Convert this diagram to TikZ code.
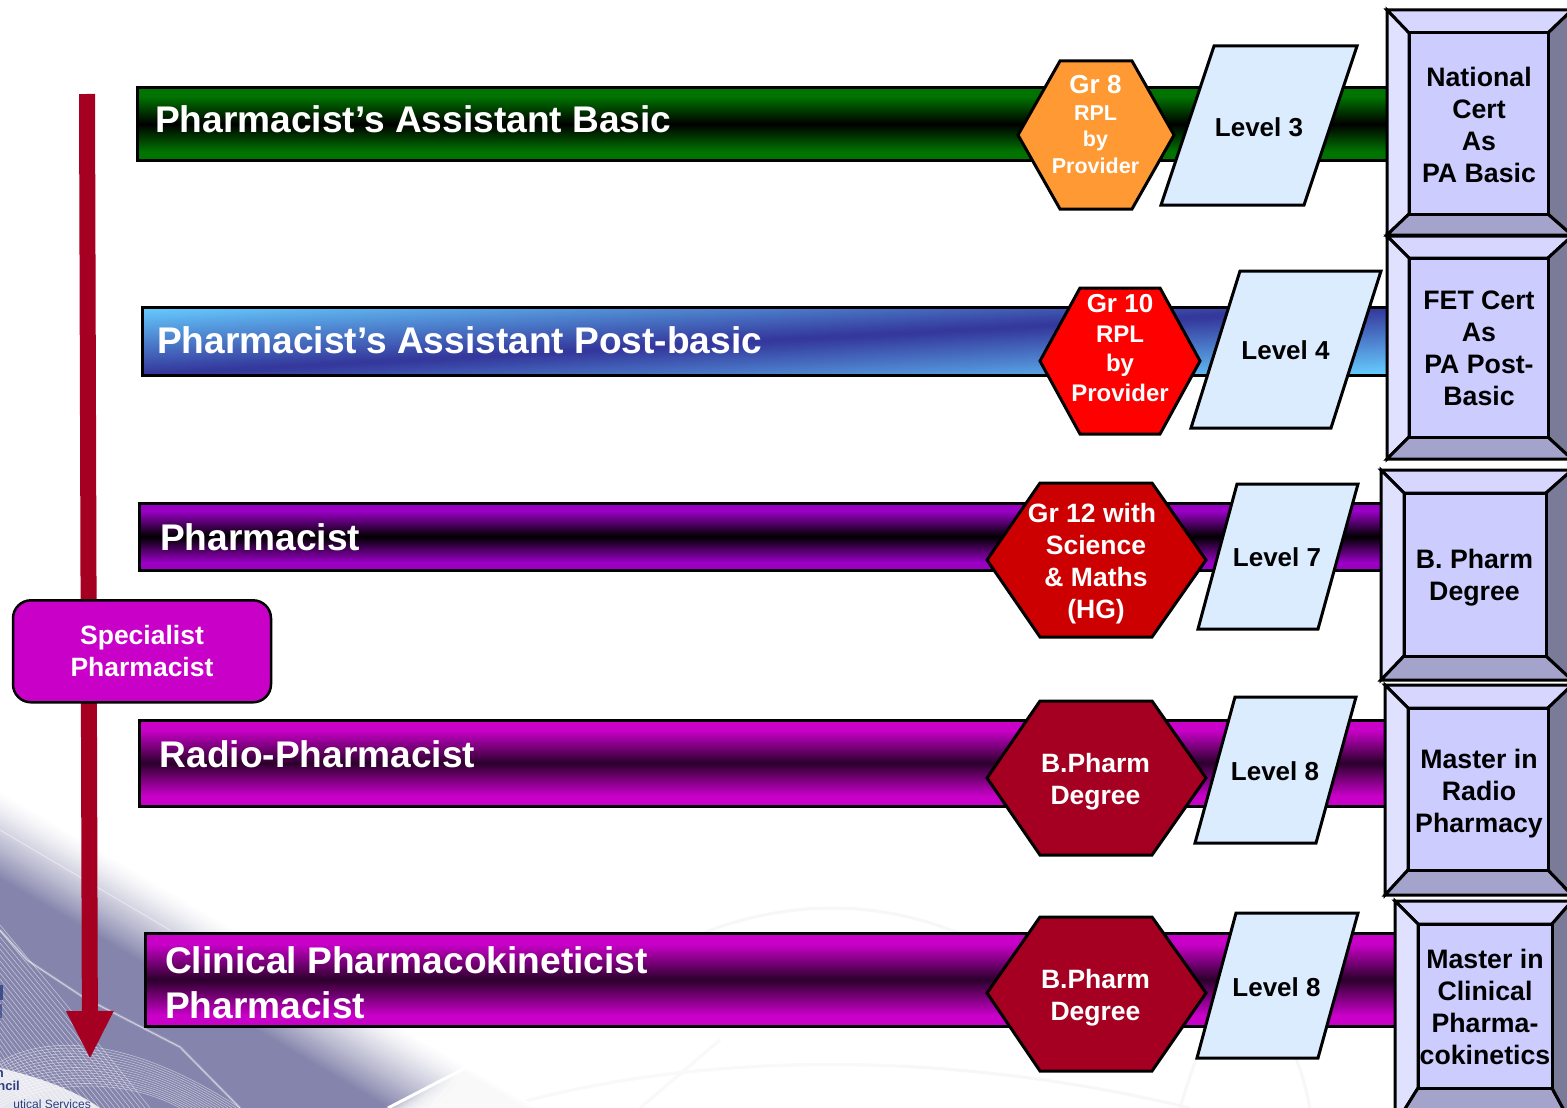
\documentclass[tikz,border=0pt]{standalone}
\usepackage{fontspec}
\setmainfont{Liberation Sans}
\usetikzlibrary{arrows.meta}
\definecolor{swoosh}{HTML}{8484AC}
\definecolor{arrowred}{HTML}{A50021}
\definecolor{barmagenta}{HTML}{C800C8}
\definecolor{barviolet}{HTML}{9900C4}
\definecolor{bargreen}{HTML}{007300}
\definecolor{bluelight}{HTML}{66CCFF}
\definecolor{bluedark}{HTML}{333399}
\definecolor{paraface}{HTML}{DCECFF}
\definecolor{logonavy}{HTML}{2A3F7F}
\definecolor{bevtop}{HTML}{D6D6FF}
\definecolor{bevleft}{HTML}{E0E0FF}
\definecolor{bevbottom}{HTML}{A3A3CC}
\definecolor{bevright}{HTML}{7A7A99}
\definecolor{bevface}{HTML}{CCCCFF}
\definecolor{hexorange}{HTML}{FF9933}
\definecolor{magmid}{HTML}{2C002C}
\pgfdeclareverticalshading{shgreen}{100bp}{color(0bp)=(bargreen); color(31bp)=(bargreen); color(50bp)=(black); color(69bp)=(bargreen); color(100bp)=(bargreen)}
\pgfdeclareverticalshading{shviolet}{100bp}{color(0bp)=(barviolet); color(31bp)=(barviolet); color(50bp)=(black); color(69bp)=(barviolet); color(100bp)=(barviolet)}
\pgfdeclareverticalshading{shmagenta}{100bp}{color(0bp)=(barmagenta); color(31bp)=(barmagenta); color(50bp)=(magmid); color(69bp)=(barmagenta); color(100bp)=(barmagenta)}
\tikzset{
  x=1pt,y=-1pt,
  outline/.style={draw=black,line width=3pt,line join=miter},
  greenbar/.style={outline,shade,shading=shgreen},
  violetbar/.style={outline,shade,shading=shviolet},
  purplebar/.style={outline,shade,shading=shmagenta},
  hexshape/.style={outline},
  parashape/.style={outline,fill=paraface},
  title/.style={anchor=base west,inner sep=0pt,text=white,font=\fontsize{37.1}{45}\selectfont\bfseries,align=left},
  lightlabel/.style={inner sep=0pt,text=white,align=center,font=\fontsize{26.5}{32}\selectfont\bfseries},
  darklabel/.style={inner sep=0pt,text=black,align=center,font=\fontsize{26}{32}\selectfont\bfseries},
  bevellabel/.style={inner sep=0pt,text=black,align=center,font=\fontsize{26.7}{32}\selectfont\bfseries},
  meshline/.style={draw=white,line width=0.6pt,opacity=0.5},
  faintline/.style={draw=black!3,line width=3pt}
}
\newcommand\bevelbox[4]{%
  \coordinate (oa) at (#1); \coordinate (oc) at (#2);
  \coordinate (ia) at (#3); \coordinate (ic) at (#4);
  \path[outline,fill=bevtop] (oa)--(oc |- oa)--(ic |- ia)--(ia)--cycle;
  \path[outline,fill=bevleft] (oa)--(ia)--(ia |- ic)--(oa |- oc)--cycle;
  \path[outline,fill=bevbottom] (oa |- oc)--(ia |- ic)--(ic)--(oc)--cycle;
  \path[outline,fill=bevright] (oc |- oa)--(ic |- ia)--(ic)--(oc)--cycle;
  \path[outline,fill=bevface] (ia) rectangle (ic);
}
\begin{document}
\begin{tikzpicture}
\useasboundingbox (0,0) rectangle (1567,1108);
\clip (0,0) rectangle (1567,1108);
\fill[white] (0,0) rectangle (1567,1108);
% faint watermark
\draw[faintline] (640,965) .. controls (760,890) and (900,890) .. (1010,960);
\draw[faintline] (1180,1108) .. controls (1200,1040) and (1220,1000) .. (1240,980);
\draw[faintline] (1310,1108) .. controls (1300,1060) and (1290,1040) .. (1270,1020);
\draw[faintline] (500,1108) .. controls (700,1050) and (950,1050) .. (1190,1108);
\draw[faintline] (720,1040) -- (640,1108);
% swoosh
\foreach \i in {0,...,34}{
  \pgfmathsetmacro\pc{100*(\i/34)^1.25}
  \pgfmathsetmacro\ya{790+\i*2.6}
  \pgfmathsetmacro\yb{\ya+0.59*800}
  \fill[swoosh!\pc!white] (0,\ya)--(800,\yb)--(800,1400)--(0,1400)--cycle;
}
\foreach \i in {0,...,20}{
  \pgfmathsetmacro\xa{385+\i*2.6}
  \pgfmathsetmacro\xb{\xa+220}
  \fill[white,fill opacity=0.16] (\xa,1108)--(\xb,992)--(900,992)--(900,1108)--cycle;
}
\draw[white,line width=3pt] (388,1108)--(500,1050);
\draw[white,line width=1pt,opacity=0.45] (0,830)--(170,930);
\draw[white,line width=3pt,opacity=0.18] (0,930)--(27,960)--(83,997)--(180,1047)--(240,1108);
\draw[white,line width=1pt,opacity=0.55] (0,930)--(27,960)--(83,997)--(180,1047)--(240,1108);
\draw[white,line width=1pt,opacity=0.5] (430,1108)--(470,1060);
% mesh
\foreach \i in {0,...,24}{
  \draw[meshline] (0,{925+\i*6}) .. controls ({50-\i*1.5},{985+\i*4.5}) and ({100-\i*3},{1045+\i*2.5}) .. ({150-\i*5},1108);
}
\foreach \i in {0,...,15}{
  \draw[meshline] (0,{1062+\i*3}) .. controls (40,{1038+\i*3}) and (120,{1030+\i*3}) .. ({240-\i*4},1108);
}
\fill[white,opacity=0.8] (0,1068) .. controls (35,1076) and (75,1090) .. (100,1108) -- (0,1108) -- cycle;
\fill[logonavy,opacity=0.8] (0,985) rectangle (3,1000);
\fill[logonavy,opacity=0.6] (0,1004) rectangle (2,1018);
% logo fragments
\node[anchor=base east,inner sep=0pt,text=logonavy,font=\fontsize{13}{15}\selectfont\bfseries] (logoa) at (4,1077) {n};
\node[anchor=base east,inner sep=0pt,text=logonavy,font=\fontsize{13}{15}\selectfont\bfseries] (logob) at (20,1090) {ncil};
\node[anchor=base east,inner sep=0pt,text=logonavy,font=\fontsize{12}{15}\selectfont] (logoc) at (91,1108) {utical Services};
% progression arrow
\coordinate (arrowtop) at (87,94);
\coordinate (arrowtip) at (90,1059);
\draw[arrowred,line width=16pt,-{Triangle[length=48pt,width=44pt]}] (arrowtop)--(arrowtip);
% bars
\path[greenbar]  (137,88) rectangle (1400,160);
\begin{scope}
  \clip (142,307) rectangle (1400,375);
  \fill[bluelight] (142,307) rectangle (1400,375);
  \foreach \k in {68,66,...,0}{
    \pgfmathsetmacro\pc{100*\k/68}
    \pgfmathsetmacro\ylt{375-\k}
    \pgfmathsetmacro\ylb{375+\k}
    \pgfmathsetmacro\yrt{307-\k}
    \pgfmathsetmacro\yrb{307+\k}
    \fill[bluelight!\pc!bluedark] (142,\ylt)--(1386,\yrt)--(1400,\yrt)--(1400,\yrb)--(1386,\yrb)--(142,\ylb)--cycle;
  }
\end{scope}
\draw[outline] (142,307) rectangle (1400,375);
\path[violetbar] (139,503) rectangle (1400,570);
\path[purplebar] (139,720) rectangle (1400,806);
\path[purplebar] (145,933) rectangle (1410,1026);
\node[title] (t1) at (155,132) {Pharmacist’s Assistant Basic};
\node[title] (t2) at (157,353) {Pharmacist’s Assistant Post-basic};
\node[title] (t3) at (160,550) {Pharmacist};
\node[title] (t4) at (159.5,767) {Radio-Pharmacist};
\node[title] (t5a) at (165,973) {Clinical Pharmacokineticist};
\node[title] (t5b) at (165,1018) {Pharmacist};
% specialist
\node[draw=black,line width=2.5pt,fill=barmagenta!100!magenta,rounded corners=18pt,minimum width=258pt,minimum height=102pt,lightlabel,inner sep=0pt] (spec) at (142,651.3) {Specialist\\Pharmacist};
% hexagons
\path[hexshape,fill=hexorange] (1018,135)--(1060,61)--(1132,61)--(1174,135)--(1132,209)--(1060,209)--cycle;
\path[hexshape,fill=red] (1040,361)--(1080,288)--(1160,288)--(1200,361)--(1160,434)--(1080,434)--cycle;
\path[hexshape,fill=red!80!black] (987,560)--(1040,483)--(1152,483)--(1206,560)--(1152,637)--(1040,637)--cycle;
\path[hexshape,fill=arrowred] (987,778)--(1040,701)--(1152,701)--(1206,778)--(1152,855)--(1040,855)--cycle;
\path[hexshape,fill=arrowred] (987,993)--(1040,917)--(1152,917)--(1206,993)--(1152,1071)--(1040,1071)--cycle;
\node[lightlabel,font=\fontsize{21.5}{26.5}\selectfont\bfseries] (h1) at (1095.5,124.5) {{\fontsize{26}{26.5}\selectfont Gr 8}\\RPL\\by\\Provider};
\node[lightlabel,font=\fontsize{24}{29.5}\selectfont\bfseries] (h2) at (1120,348) {{\fontsize{26}{29.5}\selectfont Gr 10}\\RPL\\by\\Provider};
\node[lightlabel] (h3) at (1096,564) {Gr 12 with\hspace*{8pt}\\Science\\\& Maths\\(HG)};
\node[lightlabel] (h4) at (1095.5,782) {B.Pharm\\Degree};
\node[lightlabel] (h5) at (1095.5,998) {B.Pharm\\Degree};
% parallelograms
\path[parashape] (1214,46)--(1357,46)--(1304,205)--(1161,205)--cycle;
\path[parashape] (1240,271)--(1381,271)--(1331,428)--(1191,428)--cycle;
\path[parashape] (1237,484)--(1358,484)--(1318,629)--(1198,629)--cycle;
\path[parashape] (1235,697)--(1356,697)--(1316,843)--(1195,843)--cycle;
\path[parashape] (1236,913)--(1358,913)--(1318,1058)--(1197,1058)--cycle;
\node[darklabel] (p1) at (1259,127) {Level 3};
\node[darklabel] (p2) at (1285.5,350) {Level 4};
\node[darklabel] (p3) at (1277,557) {Level 7};
\node[darklabel] (p4) at (1275,771) {Level 8};
\node[darklabel] (p5) at (1276.5,987) {Level 8};
% bevels
\bevelbox{1387,10}{1572,235}{1409,33}{1548,214}
\bevelbox{1387,236}{1572,459}{1409,258}{1548,437}
\bevelbox{1381,470}{1572,680}{1404,493}{1546,656}
\bevelbox{1385,685}{1572,895}{1408,708}{1548,870}
\bevelbox{1395,901}{1572,1125}{1418,924}{1552,1088}
\node[bevellabel] (b1) at (1479,125) {National\\Cert\\As\\PA Basic};
\node[bevellabel] (b2) at (1479,348) {FET Cert\\As\\PA Post-\\Basic};
\node[bevellabel] (b3) at (1474.5,578) {B. Pharm\\Degree};
\node[bevellabel] (b4) at (1479,794) {Master in\\Radio\\Pharmacy};
\node[bevellabel] (b5) at (1485,1007) {Master in\\Clinical\\Pharma-\\cokinetics};
\end{tikzpicture}
\end{document}
